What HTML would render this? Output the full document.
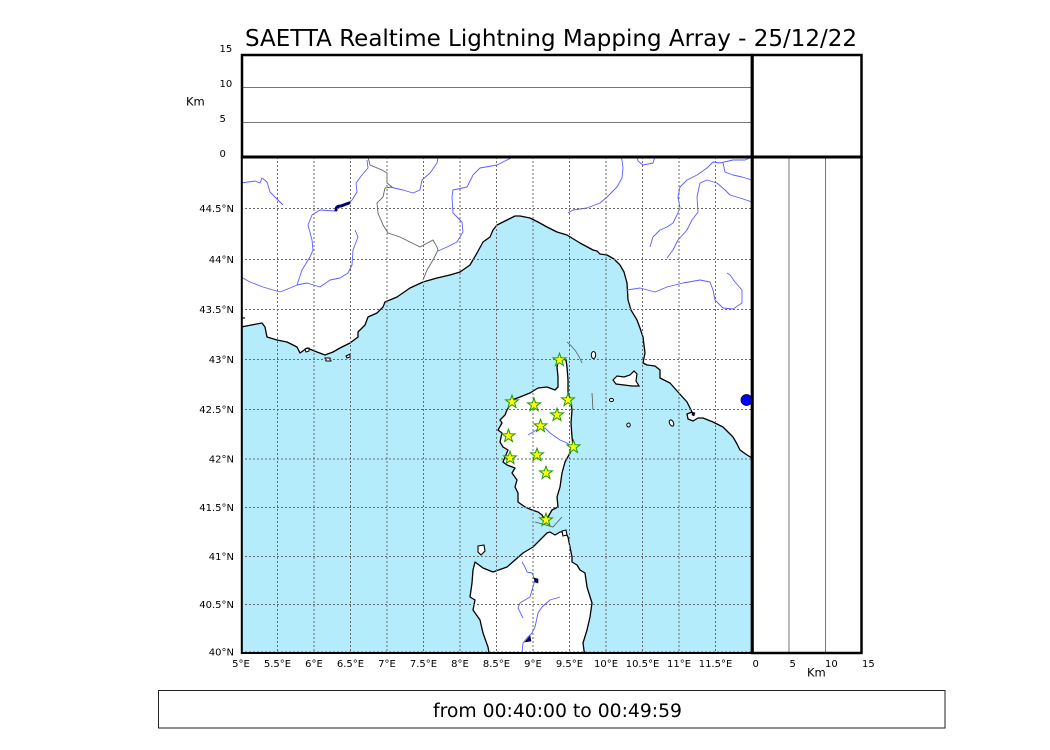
<!DOCTYPE html>
<html>
<head>
<meta charset="utf-8">
<style>
  html,body{margin:0;padding:0;background:#fff;}
  svg{display:block;}
  text{font-family:"DejaVu Sans","Liberation Sans",sans-serif;fill:#000;}
</style>
</head>
<body>
<svg width="1050" height="750" viewBox="0 0 1050 750" xmlns="http://www.w3.org/2000/svg">
  <defs>
    <clipPath id="mapclip"><rect x="241" y="157" width="511" height="496"/></clipPath>
    <path id="st" d="M0,-6.8 L1.6,-2.2 L6.47,-2.1 L2.58,0.84 L4.0,5.5 L0,2.72 L-4.0,5.5 L-2.58,0.84 L-6.47,-2.1 L-1.6,-2.2 Z"/>
  </defs>
  <rect width="1050" height="750" fill="#fff"/>

  <!-- Title -->
  <text x="245" y="46" font-size="22.9" textLength="612" lengthAdjust="spacingAndGlyphs">SAETTA Realtime Lightning Mapping Array - 25/12/22</text>

  <!-- MAP -->
  <g clip-path="url(#mapclip)">
    <!-- sea -->
    <path fill="#b4ecfc" stroke="none" d="M241,327 L262,323 L265,327 L267,337 L277,340 L287,342 L297,347 L300,353 L307,348 L317,352 L325,355 L333,352 L340,348 L350,343 L358,337 L358,332 L365,325 L368,317 L377,313 L383,307 L385,302 L397,297 L410,288 L423,282 L437,278 L450,275 L460,272 L470,265 L477,253 L483,242 L490,237 L493,230 L497,225 L507,220 L515,216 L520,216 L530,218 L538,222 L547,227 L557,232 L567,235 L580,243 L593,250 L597,251 L600,254 L607,255 L614,259 L620,265 L624,272 L627,283 L628,300 L631,310 L637,320 L640,328 L643,337 L645,353 L643,363 L647,365 L655,366 L660,370 L660,378 L670,383 L678,392 L687,402 L692,412 L687,414 L688,419 L693,421 L698,418 L703,418 L713,422 L723,427 L733,437 L737,444 L740,450 L747,455 L752,458 L752,653 L241,653 Z"/>
    <!-- mainland coastline -->
    <path fill="none" stroke="#000" stroke-width="1.3" stroke-linejoin="round" d="M241,327 L262,323 L265,327 L267,337 L277,340 L287,342 L297,347 L300,353 L307,348 L317,352 L325,355 L333,352 L340,348 L350,343 L358,337 L358,332 L365,325 L368,317 L377,313 L383,307 L385,302 L397,297 L410,288 L423,282 L437,278 L450,275 L460,272 L470,265 L477,253 L483,242 L490,237 L493,230 L497,225 L507,220 L515,216 L520,216 L530,218 L538,222 L547,227 L557,232 L567,235 L580,243 L593,250 L597,251 L600,254 L607,255 L614,259 L620,265 L624,272 L627,283 L628,300 L631,310 L637,320 L640,328 L643,337 L645,353 L643,363 L647,365 L655,366 L660,370 L660,378 L670,383 L678,392 L687,402 L692,412 L687,414 L688,419 L693,421 L698,418 L703,418 L713,422 L723,427 L733,437 L737,444 L740,450 L747,455 L752,458"/>
    <path fill="none" stroke="#000" stroke-width="1.2" d="M241,318 L245,318"/>
    <!-- small islands near Hyeres -->
    <path fill="#fff" stroke="#000" stroke-width="1" d="M305,349 L309,348 L309,351 L306,352 Z M325,358 L330,358 L331,361 L326,361 Z M346,356 L350,354 L350,357 L347,358 Z"/>

    <!-- Corsica -->
    <path fill="#fff" stroke="#000" stroke-width="1.3" stroke-linejoin="round" d="M559,358 L566,360 L567,367 L568,380 L568,393 L570,398 L572,410 L571,423 L572,437 L573,447 L570,453 L565,462 L562,473 L560,487 L557,497 L558,507 L552,510 L548,517 L545,520 L542,515 L538,512 L532,510 L525,507 L518,502 L518,493 L515,487 L517,480 L512,473 L515,468 L507,465 L503,462 L505,457 L508,450 L503,447 L500,442 L502,433 L498,430 L502,423 L500,420 L505,415 L507,410 L510,405 L512,400 L520,397 L530,393 L538,388 L547,387 L555,390 L558,387 L558,377 L557,367 Z"/>

    <!-- Sardinia -->
    <path fill="#fff" stroke="#000" stroke-width="1.3" stroke-linejoin="round" d="M550,532 L555,535 L560,532 L565,532 L568,537 L570,547 L572,557 L572,562 L577,565 L580,570 L585,573 L587,587 L592,603 L590,617 L587,630 L583,643 L585,658 L490,658 L488,647 L483,633 L480,620 L473,610 L475,600 L470,597 L472,583 L473,570 L475,562 L483,568 L493,572 L507,567 L523,553 L533,547 L540,540 L547,533 Z"/>
    <path fill="#fff" stroke="#000" stroke-width="1.1" d="M478,546 L484,545 L485,551 L481,555 L478,552 Z M562,531 L566,530 L567,535 L563,536 Z"/>

    <!-- Tuscan islands -->
    <path fill="#fff" stroke="#000" stroke-width="1.2" d="M613,380 L617,376 L624,377 L630,375 L634,371 L637,374 L636,381 L639,386 L632,386 L624,385 L616,384 Z"/>
    <ellipse cx="593.5" cy="355" rx="2.2" ry="3.5" fill="#fff" stroke="#000" stroke-width="1"/>
    <ellipse cx="611.5" cy="400" rx="2" ry="1.6" fill="#fff" stroke="#000" stroke-width="1"/>
    <ellipse cx="628.5" cy="425" rx="1.7" ry="2" fill="#fff" stroke="#000" stroke-width="1"/>
    <ellipse cx="671.5" cy="423" rx="2" ry="3.3" fill="#fff" stroke="#000" stroke-width="1" transform="rotate(-25 671.5 423)"/>

    <!-- gray thin lines near Corsica -->
    <path fill="none" stroke="#555" stroke-width="0.8" d="M567,342 Q577,350 582,363 M592,393 L593,410 M535,522 L553,527 L562,517"/>

    <!-- France-Italy border -->
    <path fill="none" stroke="#666" stroke-width="0.9" d="M368,157 L370,165 L382,170 L387,173 L387,183 L392,187 L385,188 L383,197 L377,203 L378,213 L383,225 L388,233 L400,237 L412,243 L420,247 L433,240 L437,247 L438,250 L433,260 L427,270 L423,280"/>

    <!-- rivers -->
    <g fill="none" stroke="#5c5cff" stroke-width="0.9" stroke-linejoin="round">
      <path d="M241,183 L255,181 L260,183 L262,178 L267,182 L270,192 L283,205"/>
      <path d="M367,160 L368,168 L362,175 L356,183 L357,192 L352,200 L348,203"/>
      <path d="M335,211 L320,210 L312,215 L308,225 L312,240 L313,250 L310,257 L302,270 L297,285 L290,288 L280,292 L263,287 L250,282 L241,277"/>
      <path d="M297,285 L307,283 L320,287 L330,280 L340,278 L348,273 L352,265 L353,250 L358,237 L355,230"/>
      <path d="M390,187 L403,190 L413,193 L420,190 L422,180 L430,173 L437,163 L438,157"/>
      <path d="M513,157 L497,165 L480,168 L473,175 L467,187 L453,190 L452,197 L453,213 L462,222 L463,232 L457,242 L447,247 L438,251"/>
      <path d="M568,213 L573,210 L587,208 L600,203 L607,197 L617,187 L622,178 L623,168 L622,160 L621,157"/>
      <path d="M637,157 L638,161 L643,165 L653,163 L655,157"/>
      <path d="M650,247 L653,237 L660,230 L667,227 L673,223 L677,215 L680,208 L678,197 L680,187 L687,180 L697,175 L707,168 L713,162 L720,163 L733,160 L745,160 L752,157"/>
      <path d="M667,258 L673,250 L678,240 L687,230 L692,220 L698,212 L697,197 L700,183 L707,180 L717,183 L725,190 L730,195 L740,198 L752,202"/>
      <path d="M723,163 L725,172 L733,175 L742,177 L752,180"/>
      <path d="M627,290 L640,288 L655,292 L667,287 L683,283 L700,280 L710,282 L713,290 L715,300 L723,308 L733,309 L742,303 L742,290 L735,282 L730,275 L727,273"/>
      <path d="M528,435 L533,432 L540,428 L545,428 L550,433 L560,440 L567,443 L572,447"/>
      <path d="M522,562 L525,567 L527,572 L532,573 L535,580 L533,587 L530,597 L520,603 L518,608 L523,618"/>
      <path d="M560,597 L550,600 L542,607 L538,613 L535,627 L532,633 L527,638 L523,643 L522,653"/>
    </g>
    <!-- lakes -->
    <path fill="none" stroke="#00006e" stroke-width="3" stroke-linecap="round" d="M336,210 Q336,206 341,206 L349,203"/>
    <path fill="#00008b" stroke="#000" stroke-width="0.6" d="M534,578 L538,579 L538,583 L535,582 Z M525,642 L530,636 L531,641 Z M692,412 L695,413 L694,416 L692,415 Z"/>
    <ellipse cx="746.5" cy="400" rx="5.5" ry="5.5" fill="#0000ff" stroke="#000033" stroke-width="0.8"/>

    <!-- grid -->
    <g stroke="#6a6a6a" stroke-width="1" stroke-dasharray="2,2" fill="none">
      <path d="M277.5,157 V653 M314,157 V653 M350.5,157 V653 M387,157 V653 M423.5,157 V653 M460,157 V653 M496.5,157 V653 M533,157 V653 M569.5,157 V653 M606,157 V653 M642.5,157 V653 M679,157 V653 M715.5,157 V653"/>
      <path d="M241,604.5 H752 M241,556.5 H752 M241,507.5 H752 M241,459 H752 M241,409.5 H752 M241,359.5 H752 M241,309.5 H752 M241,259.5 H752 M241,208.5 H752 M241,652 H752"/>
    </g>

    <!-- stars -->
    <g fill="#ffff00" stroke="#1f9a00" stroke-width="1" stroke-linejoin="miter">
      <use href="#st" x="559.5" y="360"/>
      <use href="#st" x="512" y="402"/>
      <use href="#st" x="534" y="405"/>
      <use href="#st" x="568" y="400"/>
      <use href="#st" x="557" y="415"/>
      <use href="#st" x="540.5" y="426"/>
      <use href="#st" x="508.5" y="436"/>
      <use href="#st" x="573.5" y="447"/>
      <use href="#st" x="510" y="458"/>
      <use href="#st" x="537" y="455"/>
      <use href="#st" x="546" y="473"/>
      <use href="#st" x="546" y="520"/>
    </g>
  </g>

  <!-- Top panel grid lines -->
  <path d="M241,87.5 H752 M241,122.5 H752" stroke="#777" stroke-width="1" fill="none"/>
  <!-- Right panel grid lines -->
  <path d="M789,157 V653 M825.5,157 V653" stroke="#777" stroke-width="1" fill="none"/>

  <!-- Frames -->
  <rect x="242" y="55" width="510" height="102" fill="none" stroke="#000" stroke-width="2.5"/>
  <rect x="752" y="55" width="109.5" height="102" fill="none" stroke="#000" stroke-width="2.5"/>
  <rect x="752" y="157" width="109.5" height="496" fill="none" stroke="#000" stroke-width="2.5"/>
  <path d="M241.8,157 V653 H752" fill="none" stroke="#000" stroke-width="2"/>
  <path d="M241,157 H862" stroke="#000" stroke-width="3"/>
  <path d="M752.3,54 V654" stroke="#000" stroke-width="3"/>

  <!-- Top panel labels -->
  <g font-size="10">
    <text x="219.5" y="52">15</text>
    <text x="219.5" y="87">10</text>
    <text x="219.5" y="122">5</text>
    <text x="219.5" y="157">0</text>
  </g>
  <text x="186" y="105.5" font-size="11.5">Km</text>

  <!-- Latitude labels -->
  <g font-size="10" text-anchor="end">
    <text x="234" y="212">44.5°N</text>
    <text x="234" y="263">44°N</text>
    <text x="234" y="313">43.5°N</text>
    <text x="234" y="363">43°N</text>
    <text x="234" y="413">42.5°N</text>
    <text x="234" y="462.5">42°N</text>
    <text x="234" y="511">41.5°N</text>
    <text x="234" y="560">41°N</text>
    <text x="234" y="608">40.5°N</text>
    <text x="234" y="655.5">40°N</text>
  </g>

  <!-- Longitude labels -->
  <g font-size="10" text-anchor="middle">
    <text x="241" y="667">5°E</text>
    <text x="277.5" y="667">5.5°E</text>
    <text x="314" y="667">6°E</text>
    <text x="350.5" y="667">6.5°E</text>
    <text x="387" y="667">7°E</text>
    <text x="423.5" y="667">7.5°E</text>
    <text x="460" y="667">8°E</text>
    <text x="496.5" y="667">8.5°E</text>
    <text x="533" y="667">9°E</text>
    <text x="569.5" y="667">9.5°E</text>
    <text x="606" y="667">10°E</text>
    <text x="642.5" y="667">10.5°E</text>
    <text x="679" y="667">11°E</text>
    <text x="715.5" y="667">11.5°E</text>
  </g>

  <!-- Right panel labels -->
  <g font-size="10">
    <text x="752.5" y="667">0</text>
    <text x="789.5" y="667">5</text>
    <text x="825" y="667">10</text>
    <text x="862" y="667">15</text>
  </g>
  <text x="807" y="676.5" font-size="11.5">Km</text>

  <!-- Bottom box -->
  <rect x="158.5" y="690.5" width="786.5" height="37.5" fill="none" stroke="#222" stroke-width="1"/>
  <text x="433" y="717" font-size="18.7" textLength="249" lengthAdjust="spacingAndGlyphs">from 00:40:00 to 00:49:59</text>
</svg>
</body>
</html>
